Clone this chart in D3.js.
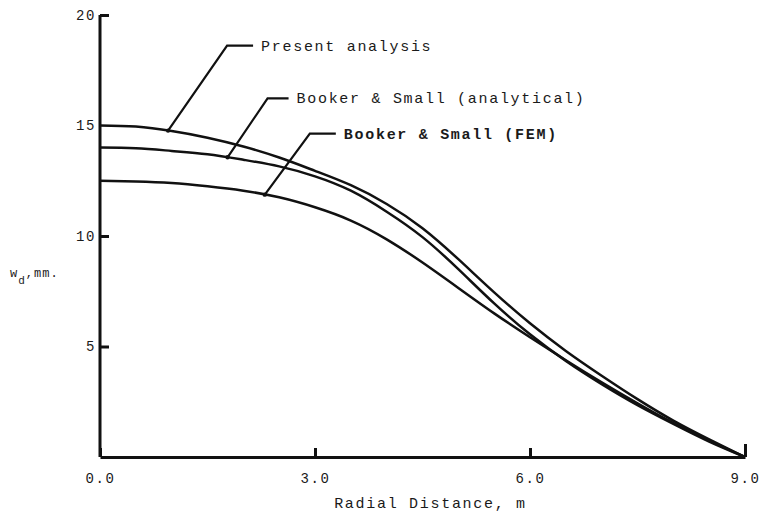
<!DOCTYPE html>
<html>
<head>
<meta charset="utf-8">
<script src="https://cdn.jsdelivr.net/npm/d3@7"></script>
<style>
  body { margin: 0; background: #fff; }
  svg text { font-family: 'Liberation Mono', 'DejaVu Sans Mono', monospace; fill: #1a1a1a; }
  .curve { fill: none; stroke: #111; stroke-width: 2.5px; }
  .leader { fill: none; stroke: #111; stroke-width: 2.2px; }
  .axis path, .axis line { stroke: #111; stroke-width: 3px; }
</style>
</head>
<body>
<div class="graph"></div>
<script>
const width = 765;
const height = 514;

// radial distance, m
const radial = [0, 0.5, 1, 1.5, 2, 2.5, 3, 3.5, 4, 4.5, 5, 5.5, 6, 6.5, 7, 7.5, 8, 8.5, 9];

// settlement w_d, mm
const present = [15.0, 14.95, 14.75, 14.45, 14.05, 13.55, 12.95, 12.3, 11.45, 10.35, 8.95, 7.45, 6.05, 4.8, 3.68, 2.62, 1.65, 0.8, 0];
const analytical = [14.0, 13.97, 13.85, 13.7, 13.45, 13.15, 12.7, 12.05, 11.1, 9.95, 8.5, 6.95, 5.55, 4.35, 3.3, 2.35, 1.5, 0.7, 0];
const fem = [12.5, 12.47, 12.4, 12.25, 12.05, 11.75, 11.3, 10.7, 9.85, 8.8, 7.65, 6.5, 5.42, 4.38, 3.38, 2.43, 1.54, 0.74, 0];

const xTicks = [0, 3, 6, 9];
const yTicks = [5, 10, 15, 20];

const series = [
  { name: 'Present analysis', values: present, at: 0.95 },
  { name: 'Booker & Small (analytical)', values: analytical, at: 1.78 },
  { name: 'Booker & Small (FEM)', values: fem, at: 2.3 },
];

// leader geometry: rise / run up to the elbow, then the short horizontal
const leaders = [
  { dx: 59, dy: -85, run: 26 },
  { dx: 40, dy: -59, run: 21 },
  { dx: 45, dy: -61, run: 26 },
];

const x = d3.scaleLinear().domain([0, 9]).range([100, 745]);
const y = d3.scaleLinear().domain([0, 20]).range([457, 15]);

const svg = d3.select('.graph')
  .append('svg')
    .attr('width', width)
    .attr('height', height);

svg.append('g')
  .attr('class', 'axis')
  .attr('transform', `translate(0, ${y(0)})`)
  .call(d3.axisBottom(x)
    .tickValues(xTicks)
    .tickFormat(d3.format('.1f'))
    .tickSizeInner(-9)
    .tickSizeOuter(0)
    .tickPadding(16))
  .call(g => g.selectAll('text')
    .style('font-size', '14px')
    .style('letter-spacing', '1.6px'))
  .call(g => g.selectAll('.tick').filter(d => d === 9).select('line').attr('y2', -13));

svg.append('g')
  .attr('class', 'axis')
  .attr('transform', `translate(${x(0)}, 0)`)
  .call(d3.axisLeft(y)
    .tickValues(yTicks)
    .tickSizeInner(-9)
    .tickSizeOuter(0)
    .tickPadding(4))
  .call(g => g.select('.domain').attr('d', `M0,${y(0)}V${y(20)}`))
  .call(g => g.selectAll('text')
    .style('font-size', '14px')
    .style('letter-spacing', '1.6px'))
  .call(g => g.selectAll('.tick').filter(d => d === 15).select('line').remove());

// axis titles
svg.append('text')
  .attr('x', x(4.5) + 8)
  .attr('y', 508)
  .attr('text-anchor', 'middle')
  .style('font-size', '15px')
  .style('letter-spacing', '1.7px')
  .text('Radial Distance, m');

const yl = svg.append('text')
  .attr('x', 10)
  .attr('y', 277)
  .style('font-size', '12px')
  .style('letter-spacing', '1px');
yl.append('tspan').text('w');
yl.append('tspan').attr('dy', 7).style('font-size', '11px').text('d');
yl.append('tspan').attr('dy', -7).text(',mm.');

const line = d3.line()
  .x((d, i) => x(radial[i]))
  .y(d => y(d))
  .curve(d3.curveNatural);

svg.selectAll('.curve')
  .data(series)
  .join('path')
    .attr('class', 'curve')
    .attr('d', d => line(d.values));

// callouts
series.forEach((s, i) => {
  const w = d3.scaleLinear().domain(radial).range(s.values);
  const x0 = x(s.at);
  const y0 = y(w(s.at));
  const l = leaders[i];
  const ex = x0 + l.dx;
  const ey = y0 + l.dy;
  svg.append('path')
    .attr('class', 'leader')
    .attr('d', d3.line()([[x0, y0], [ex, ey], [ex + l.run, ey]]));
  svg.append('circle')
    .attr('cx', x0)
    .attr('cy', y0)
    .attr('r', 2.2)
    .attr('fill', '#111');
  svg.append('text')
    .attr('x', ex + l.run + 8)
    .attr('y', ey + 5)
    .style('font-size', '15px')
    .style('letter-spacing', '1.7px')
    .style('font-weight', i === 2 ? 'bold' : 'normal')
    .text(s.name);
});
</script>
</body>
</html>
